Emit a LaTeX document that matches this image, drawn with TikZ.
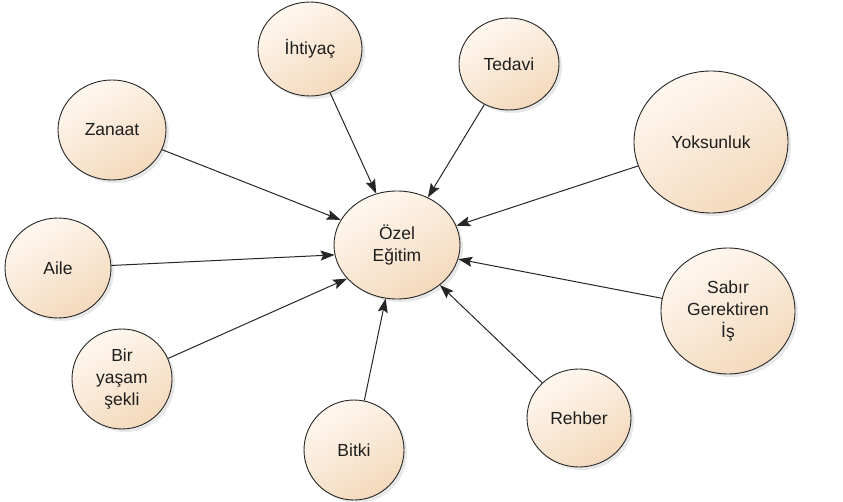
\documentclass[tikz,border=0pt]{standalone}
\usepackage{fontspec}
\setmainfont{Liberation Sans}
\usetikzlibrary{shapes.geometric,arrows.meta,shadows}
\definecolor{peachlight}{HTML}{FFF8F0}
\definecolor{peachdark}{HTML}{F4D9BC}
\definecolor{edge}{HTML}{262626}
\definecolor{txt}{HTML}{1E1E1E}
\tikzset{
  bub/.style={ellipse, draw=edge, line width=0.9pt, inner sep=0pt,
    top color=peachlight, bottom color=peachdark, shading angle=30,
    drop shadow={opacity=0.18, shadow xshift=3pt, shadow yshift=-3pt},
    font=\fontsize{17.5}{22}\selectfont, text=txt, align=center},
  link/.style={draw=edge, line width=1pt,
    -{Stealth[length=14pt,width=10pt,inset=2.5pt]}}
}
\begin{document}
\begin{tikzpicture}[x=1pt,y=-1pt]
\useasboundingbox (0,0) rectangle (843,502);
\node[bub, minimum width=126pt, minimum height=108pt] (C) at (397,245) {Özel\\Eğitim};
\node[bub, minimum width=104pt, minimum height=94pt] (ihtiyac) at (310,49) {İhtiyaç};
\node[bub, minimum width=100pt, minimum height=92pt] (tedavi) at (509,64) {Tedavi};
\node[bub, minimum width=108pt, minimum height=100pt] (zanaat) at (112,130) {Zanaat};
\node[bub, minimum width=154pt, minimum height=142pt] (yoksun) at (711,142) {Yoksunluk};
\node[bub, minimum width=134pt, minimum height=126pt] (sabir) at (728,311) {Sabır\\Gerektiren\\İş};
\node[bub, minimum width=106pt, minimum height=100pt] (aile) at (58,268) {Aile};
\node[bub, minimum width=100pt, minimum height=100pt] (yasam) at (122,379) {Bir\\yaşam\\şekli};
\node[bub, minimum width=100pt, minimum height=100pt] (bitki) at (354,450) {Bitki};
\node[bub, minimum width=104pt, minimum height=98pt] (rehber) at (579,418) {Rehber};
\draw[link] (ihtiyac) -- (C.112);
\draw[link] (tedavi) -- (C.57);
\draw[link] (zanaat) -- (C.156);
\draw[link] (yoksun) -- (C.18);
\draw[link] (aile) -- (C.189);
\draw[link] (sabir) -- (C.347);
\draw[link] (yasam) -- (C.214);
\draw[link] (bitki) -- (C.258);
\draw[link] (rehber) -- (C.317);
\end{tikzpicture}
\end{document}
